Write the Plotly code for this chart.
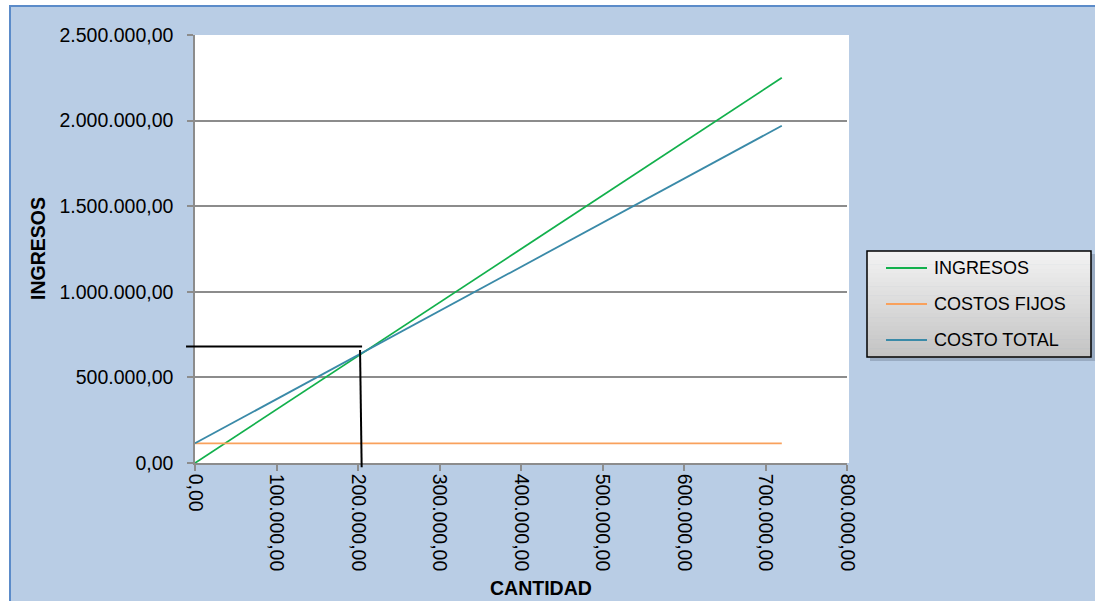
import plotly.graph_objects as go

# Break-even chart data
cantidad = [0, 720000]
ingresos = [0, 2250000]
costos_fijos = [115000, 115000]
costo_total = [115000, 1970000]

series_names = ["INGRESOS", "COSTOS FIJOS", "COSTO TOTAL"]
series_values = [ingresos, costos_fijos, costo_total]
series_colors = ["#12b04c", "#f9a15c", "#3a8aa8"]

# Break-even guide lines (horizontal and vertical)
guia_h_x = [-11000, 205000]
guia_h_y = [680000, 680000]
guia_v_x = [202500, 204500]
guia_v_y = [660000, -25000]

x_range = [0, 800000]
y_range = [0, 2500000]
x_ticks = [0, 100000, 200000, 300000, 400000, 500000, 600000, 700000, 800000]
y_ticks = [0, 500000, 1000000, 1500000, 2000000, 2500000]

W, H = 1095, 601
L, R, T, B = 195, 248, 35, 138
PW, PH = W - L - R, H - T - B

FONT = "Liberation Sans, Arial, sans-serif"


def px_x(px):
    return (px - L) / PW


def px_y(py):
    return (H - B - py) / PH


def data_to_paper_x(v):
    return (v - x_range[0]) / (x_range[1] - x_range[0])


def data_to_paper_y(v):
    return (v - y_range[0]) / (y_range[1] - y_range[0])


fig = go.Figure()
for name, vals, col in zip(series_names, series_values, series_colors):
    fig.add_trace(go.Scatter(
        x=cantidad, y=vals, mode="lines", name=name,
        line=dict(color=col, width=1.8), showlegend=False,
    ))

shapes = []
# chart area background with border
shapes.append(dict(type="rect", xref="paper", yref="paper", layer="below",
                   x0=px_x(10), x1=px_x(W + 20), y0=px_y(H + 20), y1=px_y(6),
                   fillcolor="#b9cde5", line=dict(color="#5b8bc9", width=2)))
# plot area fill
shapes.append(dict(type="rect", xref="paper", yref="paper", layer="below",
                   x0=0, x1=px_x(849), y0=0, y1=1,
                   fillcolor="white", line=dict(width=0)))

# guide lines
shapes.append(dict(type="line", xref="paper", yref="y",
                   x0=data_to_paper_x(guia_h_x[0]), x1=data_to_paper_x(guia_h_x[1]),
                   y0=guia_h_y[0], y1=guia_h_y[1],
                   line=dict(color="black", width=2)))
shapes.append(dict(type="line", xref="x", yref="paper",
                   x0=guia_v_x[0], x1=guia_v_x[1],
                   y0=data_to_paper_y(guia_v_y[0]), y1=data_to_paper_y(guia_v_y[1]),
                   line=dict(color="black", width=2)))

# legend box: shadow, gradient fill, border
lx0, lx1, ly0, ly1 = 867, 1091, 251, 357
shapes.append(dict(type="rect", xref="paper", yref="paper",
                   x0=px_x(lx0 + 3), x1=px_x(lx1 + 4), y0=px_y(ly1 + 4), y1=px_y(ly0 + 3),
                   fillcolor="rgba(60,70,90,0.25)", line=dict(width=0)))
n_strips = 24
top_c, bot_c = (242, 242, 242), (196, 196, 196)
for i in range(n_strips):
    t = i / (n_strips - 1)
    c = tuple(round(top_c[k] + (bot_c[k] - top_c[k]) * t) for k in range(3))
    y_a = ly0 + (ly1 - ly0) * i / n_strips
    y_b = ly0 + (ly1 - ly0) * (i + 1) / n_strips
    shapes.append(dict(type="rect", xref="paper", yref="paper",
                       x0=px_x(lx0), x1=px_x(lx1), y0=px_y(y_b + 0.5), y1=px_y(y_a),
                       fillcolor="rgb(%d,%d,%d)" % c, line=dict(width=0)))
shapes.append(dict(type="rect", xref="paper", yref="paper",
                   x0=px_x(lx0), x1=px_x(lx1), y0=px_y(ly1), y1=px_y(ly0),
                   fillcolor="rgba(0,0,0,0)", line=dict(color="black", width=1.5)))

annotations = []
row_y = [268, 304, 340]
for name, col, ry in zip(series_names, series_colors, row_y):
    shapes.append(dict(type="line", xref="paper", yref="paper",
                       x0=px_x(886), x1=px_x(927), y0=px_y(ry), y1=px_y(ry),
                       line=dict(color=col, width=1.8)))
    annotations.append(dict(text=name, xref="paper", yref="paper",
                            x=px_x(932), y=px_y(ry), xanchor="left", yanchor="middle",
                            showarrow=False, font=dict(family=FONT, size=18, color="black")))

# axis titles
annotations.append(dict(text="<b>CANTIDAD</b>", xref="paper", yref="paper",
                        x=px_x(541), y=px_y(588), xanchor="center", yanchor="middle",
                        showarrow=False, font=dict(family=FONT, size=19.5, color="black")))
annotations.append(dict(text="<b>INGRESOS</b>", xref="paper", yref="paper",
                        x=px_x(38), y=px_y(249), xanchor="center", yanchor="middle",
                        textangle=-90, showarrow=False,
                        font=dict(family=FONT, size=19.5, color="black")))

fig.update_layout(
    width=W, height=H,
    margin=dict(l=L, r=R, t=T, b=B, pad=0),
    paper_bgcolor="white", plot_bgcolor="rgba(0,0,0,0)",
    separators=",.",
    shapes=shapes, annotations=annotations,
    showlegend=False,
    font=dict(family=FONT, color="black"),
)
fig.update_xaxes(
    range=x_range, tickvals=x_ticks, tickformat=",.2f", tickangle=90,
    showgrid=False, zeroline=False,
    showline=True, linecolor="#8c8c8c", linewidth=1.5,
    ticks="outside", ticklen=6, tickcolor="#8c8c8c", tickwidth=1.5,
    tickfont=dict(family=FONT, size=19.5, color="black"),
    ticklabelstandoff=-1,
)
fig.update_yaxes(
    range=y_range, tickvals=y_ticks, tickformat=",.2f",
    showgrid=True, gridcolor="#8c8c8c", gridwidth=1.5, zeroline=False,
    showline=True, linecolor="#8c8c8c", linewidth=1.5,
    ticks="outside", ticklen=6, tickcolor="#8c8c8c", tickwidth=1.5,
    tickfont=dict(family=FONT, size=19.5, color="black"),
    ticklabelstandoff=10,
)

fig.write_html("out.html")
